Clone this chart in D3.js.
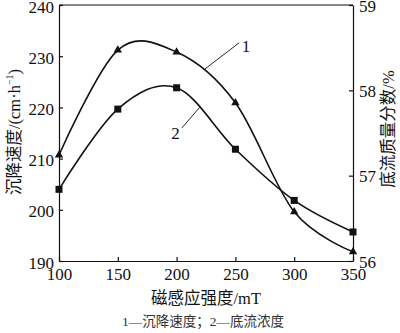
<!DOCTYPE html>
<html>
<head>
<meta charset="utf-8">
<script src="https://cdn.jsdelivr.net/npm/d3@7"></script>
<style>
  html, body { margin: 0; padding: 0; background: #fff; }
  svg { display: block; }
</style>
</head>
<body>
<svg id="chart" width="400" height="333"></svg>
<script>
// Magnetic field strength (mT)
const fieldStrength = [100, 150, 200, 250, 300, 350];
// Series 1: settling velocity (cm/h), left axis
const settlingVelocity = [210.7, 231.2, 230.8, 220.9, 199.6, 191.8];
// Series 2: underflow mass fraction (%), right axis
const underflowFraction = [56.84, 57.78, 58.03, 57.31, 56.71, 56.34];

const xTicks = [100, 150, 200, 250, 300, 350];
const leftTicks = [190, 200, 210, 220, 230, 240];
const rightTicks = [56, 57, 58, 59];

const SERIF = '"Liberation Serif", "DejaVu Serif", "Noto Sans CJK SC", serif';
const INK = "#111";

const svg = d3.select("#chart");
const m = { left: 59, right: 353, top: 5, bottom: 261 };

const x = d3.scaleLinear().domain([100, 350]).range([m.left, m.right]);
const yL = d3.scaleLinear().domain([190, 240]).range([m.bottom, m.top]);
const yR = d3.scaleLinear().domain([56, 59]).range([m.bottom, m.top]);

function label(sel, size) {
  return sel.style("font-family", SERIF).style("font-size", size + "px").style("fill", INK);
}

function styleAxis(g, dy) {
  g.attr("font-family", null).attr("font-size", null);
  g.selectAll("path, line").attr("stroke", INK).attr("stroke-width", 1.2);
  const t = g.selectAll("text").call(label, 17);
  if (dy) t.attr("dy", dy);
}

svg.append("g")
  .attr("transform", `translate(0,${m.bottom})`)
  .call(d3.axisBottom(x).tickValues(xTicks).tickSize(-4).tickSizeOuter(0).tickPadding(7))
  .call(styleAxis);

svg.append("g")
  .attr("transform", `translate(${m.left},0)`)
  .call(d3.axisLeft(yL).tickValues(leftTicks).tickSize(-4).tickSizeOuter(0).tickPadding(5))
  .call(styleAxis, "0.42em");

svg.append("g")
  .attr("transform", `translate(${m.right},0)`)
  .call(d3.axisRight(yR).tickValues(rightTicks).tickFormat(d3.format("d")).tickSize(-4).tickSizeOuter(0).tickPadding(6))
  .call(styleAxis, "0.36em");

// top frame line
svg.append("line")
  .attr("x1", m.left).attr("x2", m.right)
  .attr("y1", m.top).attr("y2", m.top)
  .attr("stroke", INK).attr("stroke-width", 1.2);

const curve = d3.curveCatmullRom.alpha(0);

const line1 = d3.line().x((d, i) => x(fieldStrength[i])).y(d => yL(d)).curve(curve);
const line2 = d3.line().x((d, i) => x(fieldStrength[i])).y(d => yR(d)).curve(curve);

svg.append("path").datum(settlingVelocity)
  .attr("d", line1).attr("fill", "none").attr("stroke", INK).attr("stroke-width", 1.6);
svg.append("path").datum(underflowFraction)
  .attr("d", line2).attr("fill", "none").attr("stroke", INK).attr("stroke-width", 1.6);

// markers: triangles for series 1, squares for series 2
svg.append("g").selectAll("path")
  .data(settlingVelocity)
  .join("path")
  .attr("transform", (d, i) => `translate(${x(fieldStrength[i])},${yL(d)})`)
  .attr("d", d3.symbol(d3.symbolTriangle, 30))
  .attr("fill", INK);

svg.append("g").selectAll("rect")
  .data(underflowFraction)
  .join("rect")
  .attr("x", (d, i) => x(fieldStrength[i]) - 3.5)
  .attr("y", d => yR(d) - 3.5)
  .attr("width", 7).attr("height", 7)
  .attr("fill", INK);

// curve labels with leader lines
svg.append("line")
  .attr("x1", x(224.1)).attr("y1", yL(227.5))
  .attr("x2", x(253.1)).attr("y2", yL(232.6))
  .attr("stroke", INK).attr("stroke-width", 0.9);
svg.append("text")
  .attr("x", x(255.5)).attr("y", yL(230.8))
  .call(label, 17).text("1");

svg.append("line")
  .attr("x1", x(204.6)).attr("y1", yL(216.0))
  .attr("x2", x(219.9)).attr("y2", yL(220.1))
  .attr("stroke", INK).attr("stroke-width", 0.9);
svg.append("text")
  .attr("x", x(195.5)).attr("y", yL(213.9))
  .call(label, 17).text("2");

// axis titles
const lt = svg.append("text")
  .attr("transform", "translate(20,132) rotate(-90)")
  .attr("text-anchor", "middle")
  .call(label, 16.5);
lt.append("tspan").text("沉降速度/(cm·h");
lt.append("tspan").style("font-size", "10px").attr("dy", -7).text("−1");
lt.append("tspan").attr("dy", 7).text(")");

svg.append("text")
  .attr("transform", "translate(394,129) rotate(-90)")
  .attr("text-anchor", "middle")
  .call(label, 16.5)
  .text("底流质量分数/%");

svg.append("text")
  .attr("x", 206).attr("y", 304)
  .attr("text-anchor", "middle")
  .call(label, 16.5)
  .text("磁感应强度/mT");

svg.append("text")
  .attr("x", 203).attr("y", 326)
  .attr("text-anchor", "middle")
  .call(label, 13.5).style("fill", "#333")
  .text("1—沉降速度；2—底流浓度");
</script>
</body>
</html>
